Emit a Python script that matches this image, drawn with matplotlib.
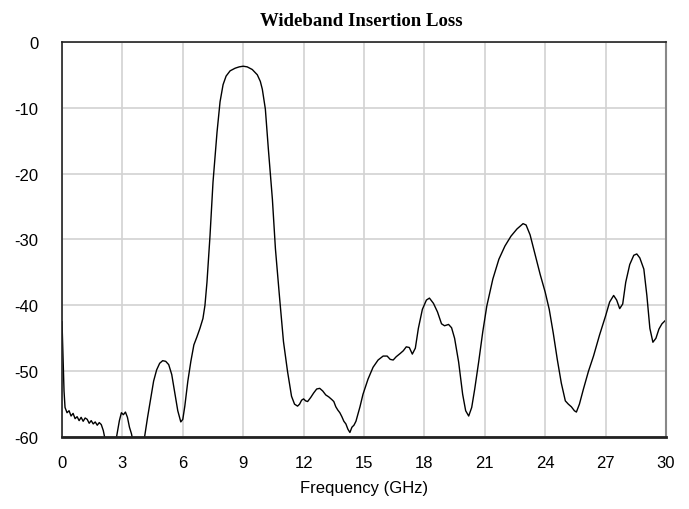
import matplotlib
matplotlib.use("Agg")
import matplotlib.pyplot as plt

# frequency (GHz) and insertion loss (dB)
freq = [0.00, 0.05, 0.10, 0.15, 0.25, 0.35, 0.45, 0.55, 0.65, 0.75, 0.85, 0.95,
        1.05, 1.15, 1.25, 1.35, 1.45, 1.55, 1.65, 1.75, 1.85, 1.95, 2.05, 2.15,
        2.30, 2.50, 2.65, 2.75, 2.85, 2.95, 3.05, 3.15, 3.25, 3.35, 3.45, 3.55,
        3.80, 4.00, 4.10, 4.25, 4.40, 4.55, 4.70, 4.85, 5.00, 5.15, 5.30, 5.45,
        5.60, 5.75, 5.90, 6.00, 6.10, 6.25, 6.40, 6.55, 6.70, 6.85, 7.00, 7.10,
        7.20, 7.35, 7.50, 7.70, 7.85, 8.00, 8.15, 8.35, 8.60, 8.80, 9.00, 9.20,
        9.45, 9.70, 9.85, 9.95, 10.10, 10.25, 10.45, 10.60, 10.80, 11.00, 11.20,
        11.40, 11.55, 11.70, 11.80, 11.90, 12.00, 12.10, 12.20, 12.35, 12.50,
        12.65, 12.80, 12.95, 13.10, 13.25, 13.40, 13.50, 13.60, 13.70, 13.80,
        13.90, 14.00, 14.10, 14.20, 14.30, 14.40, 14.50, 14.60, 14.70, 14.80,
        14.95, 15.20, 15.45, 15.70, 15.95, 16.15, 16.30, 16.45, 16.60, 16.80,
        16.95, 17.10, 17.25, 17.40, 17.55, 17.70, 17.90, 18.10, 18.25, 18.45,
        18.65, 18.85, 19.00, 19.20, 19.35, 19.50, 19.70, 19.90, 20.05, 20.20,
        20.35, 20.50, 20.70, 20.90, 21.10, 21.40, 21.70, 22.00, 22.30, 22.60,
        22.90, 23.05, 23.25, 23.50, 23.75, 24.00, 24.20, 24.40, 24.60, 24.80,
        25.00, 25.15, 25.30, 25.45, 25.55, 25.70, 25.90, 26.15, 26.40, 26.70,
        27.00, 27.20, 27.40, 27.55, 27.70, 27.85, 28.00, 28.20, 28.40, 28.55,
        28.70, 28.90, 29.05, 29.20, 29.35, 29.50, 29.65, 29.80, 30.00]
loss = [-42.5, -48.0, -53.0, -55.5, -56.3, -56.0, -56.8, -56.4, -57.2, -56.9, -57.5, -57.0,
        -57.6, -57.1, -57.3, -57.9, -57.5, -58.0, -57.7, -58.2, -57.8, -58.1, -59.0, -60.5,
        -62.0, -63.0, -61.0, -59.2, -57.5, -56.3, -56.6, -56.2, -57.0, -58.5, -59.5, -61.0,
        -63.0, -61.5, -60.0, -57.0, -54.3, -51.5, -49.8, -48.8, -48.4, -48.5, -49.0, -50.5,
        -53.2, -56.0, -57.7, -57.3, -55.3, -51.5, -48.5, -46.0, -44.8, -43.5, -42.0, -40.0,
        -36.5, -29.5, -21.3, -13.7, -9.1, -6.5, -5.2, -4.4, -4.0, -3.8, -3.7, -3.8,
        -4.2, -5.0, -6.0, -7.2, -10.2, -16.3, -23.9, -31.4, -38.6, -45.5, -50.0,
        -53.8, -55.0, -55.3, -55.0, -54.4, -54.2, -54.5, -54.6, -54.0, -53.3,
        -52.7, -52.6, -53.0, -53.6, -53.9, -54.3, -54.6, -55.4, -55.9, -56.3,
        -56.9, -57.6, -58.0, -58.8, -59.3, -58.5, -58.2, -57.6, -56.5, -55.4,
        -53.5, -51.2, -49.4, -48.3, -47.7, -47.7, -48.2, -48.3, -47.8, -47.3,
        -46.9, -46.3, -46.4, -47.4, -46.5, -43.5, -40.6, -39.2, -38.9, -39.7,
        -41.0, -42.8, -43.1, -42.9, -43.4, -45.0, -48.6, -53.5, -56.0, -56.8,
        -55.5, -52.7, -48.5, -44.0, -40.1, -36.0, -33.0, -31.0, -29.5, -28.4,
        -27.6, -27.8, -29.3, -32.3, -35.3, -38.0, -40.6, -44.2, -48.2, -51.8,
        -54.5, -55.0, -55.4, -56.0, -56.2, -55.0, -52.7, -50.0, -47.7, -44.5,
        -41.6, -39.5, -38.5, -39.2, -40.5, -39.8, -36.5, -33.8, -32.4, -32.2,
        -32.8, -34.5, -38.5, -43.5, -45.6, -45.0, -43.6, -42.8, -42.2]

xticks = [0, 3, 6, 9, 12, 15, 18, 21, 24, 27, 30]
yticks = [0, -10, -20, -30, -40, -50, -60]

fig = plt.figure(figsize=(6.89, 5.10), dpi=100)
ax = fig.add_axes([0.090, 0.141, 0.8766, 0.775])

ax.plot(freq, loss, color="black", linewidth=1.0, clip_on=True)

ax.set_xlim(0, 30)
ax.set_ylim(-60, 0)
ax.set_xticks(xticks)
ax.set_yticks(yticks)
ax.set_xticklabels([str(t) for t in xticks], fontfamily="Liberation Sans", fontsize=12)
ax.set_yticklabels([str(t) for t in yticks], fontfamily="Liberation Sans", fontsize=12)
ax.tick_params(axis="x", length=0, pad=13)
ax.tick_params(axis="y", length=0, pad=17)

ax.grid(True, color="#d2d2d2", linewidth=1.2)
ax.set_axisbelow(True)

ax.spines["left"].set_color("#222222")
ax.spines["left"].set_linewidth(1.2)
ax.spines["top"].set_color("#222222")
ax.spines["top"].set_linewidth(1.2)
ax.spines["bottom"].set_color("#222222")
ax.spines["bottom"].set_linewidth(2.0)
ax.spines["right"].set_color("#888888")
ax.spines["right"].set_linewidth(1.5)

ax.set_xlabel("Frequency (GHz)", fontfamily="Liberation Sans", fontsize=12, labelpad=7)
fig.text(0.525, 0.958, "Wideband Insertion Loss", ha="center", va="center",
         fontfamily="Liberation Serif", fontweight="bold", fontsize=13.5)

fig.savefig("out.png", dpi=100)
